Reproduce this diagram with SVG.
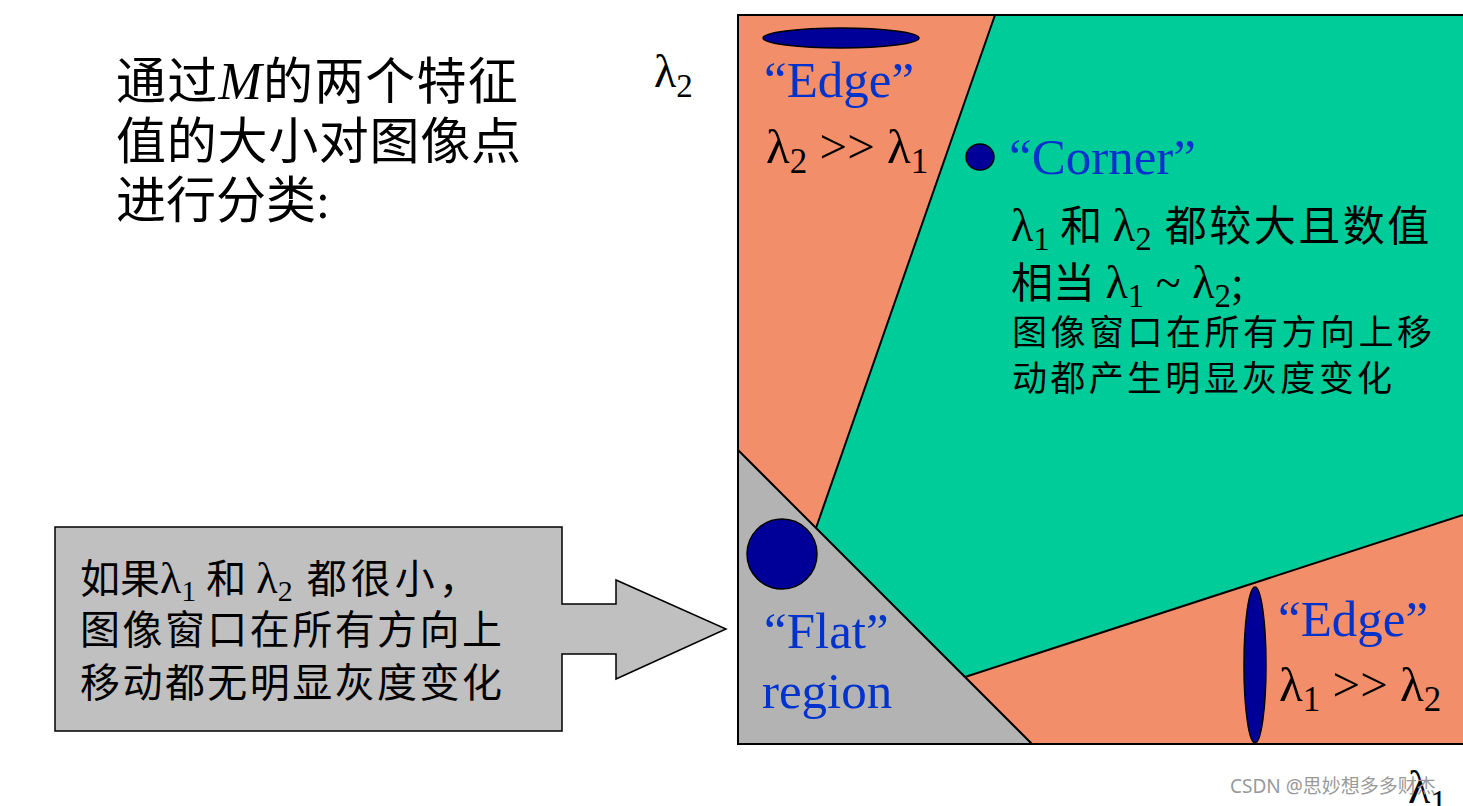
<svg xmlns="http://www.w3.org/2000/svg" width="1463" height="806" viewBox="0 0 1463 806">
<style>
.ser{font-family:"Liberation Serif","Noto Sans CJK SC",serif;}
.cjk{font-family:"Liberation Serif","Noto Sans CJK SC",sans-serif;}
.blue{fill:#0033CC;}
.blk{fill:#000;}
.edge{stroke:#000;stroke-width:2;}
.dot{fill:#000099;stroke:#000;stroke-width:1.5;}
</style>
<rect width="1463" height="806" fill="#fff"/>
<g id="plot">
  <polygon points="738,15 995,15 816,528 738,450" fill="#F28F6A"/>
  <polygon points="995,15 1463,15 1463,515 965,677 816,528" fill="#00CC99"/>
  <polygon points="965,677 1463,515 1463,744 1032,744" fill="#F28F6A"/>
  <polygon points="738,450 738,744 1032,744" fill="#B3B3B3"/>
  <g fill="none" class="edge">
    <line x1="995" y1="15" x2="816" y2="528"/>
    <line x1="738" y1="450" x2="1032" y2="744"/>
    <line x1="965" y1="677" x2="1463" y2="515"/>
    <polyline points="1463,15 738,15 738,744 1463,744"/>
  </g>
</g>
<g id="axis-l2">
  <text class="ser blk" x="654" y="87" font-size="46">λ<tspan font-size="33" dy="10">2</tspan></text>
</g>
<g id="axis-l1">
  <text class="ser blk" x="1408" y="803" font-size="46">λ<tspan font-size="33" dy="10">1</tspan></text>
</g>
<g id="edge-top">
  <ellipse class="dot" cx="841" cy="38" rx="78" ry="10"/>
  <text class="ser blue" x="764" y="97" font-size="51">“Edge”</text>
  <text class="ser blk" x="766" y="163" font-size="49">λ<tspan font-size="35" dy="10">2</tspan><tspan dy="-10"> &gt;&gt; λ</tspan><tspan font-size="35" dy="10">1</tspan></text>
</g>
<g id="corner">
  <ellipse class="dot" cx="980" cy="157" rx="14" ry="13"/>
  <text class="ser blue" x="1009" y="174" font-size="51">“Corner”</text>
  <text class="cjk blk" x="1011" y="241" font-size="46">λ<tspan font-size="33" dy="9">1</tspan><tspan dy="-9" font-size="42"> 和 </tspan><tspan>λ</tspan><tspan font-size="33" dy="9">2</tspan><tspan dy="-9" font-size="42" letter-spacing="2.5"> 都较大且数值</tspan></text>
  <text class="cjk blk" x="1011" y="298" font-size="42">相当 <tspan font-size="46">λ</tspan><tspan font-size="33" dy="9">1</tspan><tspan dy="-9" font-size="46"> ~ λ</tspan><tspan font-size="33" dy="9">2</tspan><tspan dy="-9" font-size="46">;</tspan></text>
  <text class="cjk blk" x="1012" y="345" font-size="35" textLength="420" lengthAdjust="spacing">图像窗口在所有方向上移</text>
  <text class="cjk blk" x="1012" y="391" font-size="35" textLength="380" lengthAdjust="spacing">动都产生明显灰度变化</text>
</g>
<g id="flat">
  <circle class="dot" cx="782" cy="554" r="35"/>
  <text class="ser blue" x="764" y="648" font-size="51">“Flat”</text>
  <text class="ser blue" x="762" y="708" font-size="51">region</text>
</g>
<g id="edge-bottom">
  <ellipse class="dot" cx="1255" cy="665" rx="11" ry="78"/>
  <text class="ser blue" x="1278" y="636" font-size="51">“Edge”</text>
  <text class="ser blk" x="1279" y="701" font-size="49">λ<tspan font-size="35" dy="10">1</tspan><tspan dy="-10"> &gt;&gt; λ</tspan><tspan font-size="35" dy="10">2</tspan></text>
</g>
<g id="title">
  <text class="cjk blk" x="116" y="99" font-size="50" letter-spacing="1.2">通过<tspan font-style="italic" font-family="Liberation Serif" font-size="52">M</tspan>的两个特征</text>
  <text class="cjk blk" x="116" y="159" font-size="50" textLength="405" lengthAdjust="spacing">值的大小对图像点</text>
  <text class="cjk blk" x="116" y="218" font-size="50">进行分类<tspan font-family="Liberation Serif">:</tspan></text>
</g>
<g id="connectors">
  <polygon id="callout" points="55,527 562,527 562,604 616,604 616,580 726,629 616,679 616,654 562,654 562,731 55,731" fill="#C0C0C0" stroke="#000" stroke-width="1.5"/>
</g>
<g id="callout-text">
  <text class="cjk blk" x="80" y="593" font-size="40">如果<tspan font-size="44">λ</tspan><tspan font-size="30" dy="8">1</tspan><tspan dy="-8"> 和 </tspan><tspan font-size="44">λ</tspan><tspan font-size="30" dy="8">2</tspan><tspan dy="-8" letter-spacing="4"> 都很小，</tspan></text>
  <text class="cjk blk" x="80" y="644" font-size="40" textLength="422" lengthAdjust="spacing">图像窗口在所有方向上</text>
  <text class="cjk blk" x="80" y="697" font-size="40" textLength="422" lengthAdjust="spacing">移动都无明显灰度变化</text>
</g>
<g id="watermark">
  <text x="1230" y="793" font-size="19" fill="#999" font-family="'Noto Sans','Noto Sans CJK SC',sans-serif">CSDN @思妙想多多财杰</text>
</g>
</svg>
